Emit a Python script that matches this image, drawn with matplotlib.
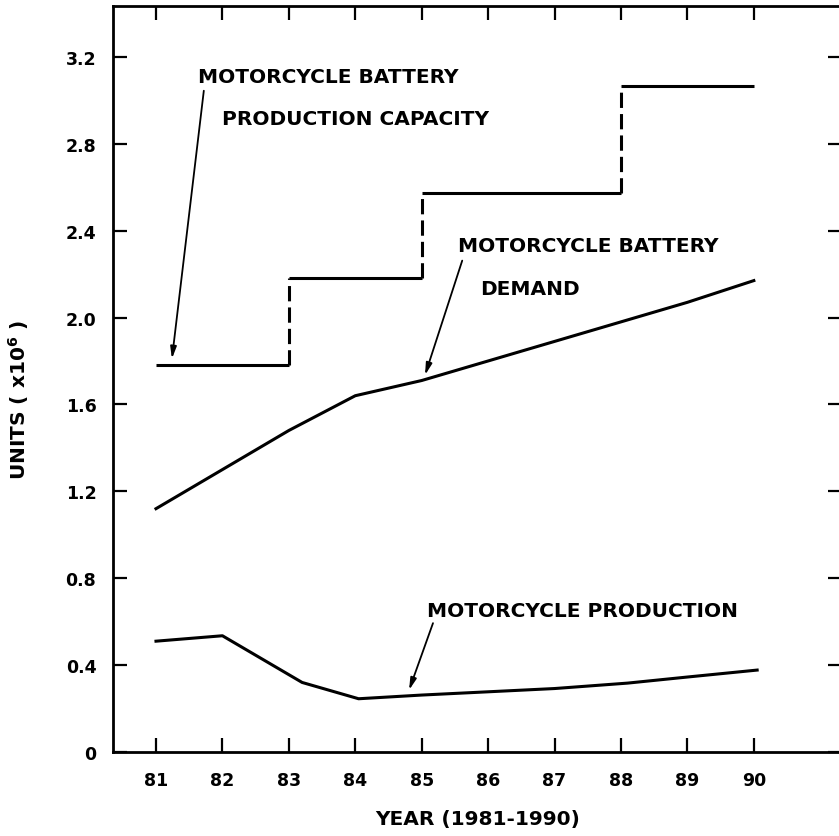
import numpy as np
import matplotlib
matplotlib.use('Agg')
import matplotlib.pyplot as plt

# data
years = [81, 82, 83, 84, 85, 86, 87, 88, 89, 90]
demand = [1.12, 1.30, 1.48, 1.64, 1.71, 1.80, 1.89, 1.98, 2.07, 2.17]

prod_years = [81, 82, 83.2, 84.05, 85, 86, 87, 88.1, 89, 90.05]
production = [0.51, 0.535, 0.32, 0.245, 0.262, 0.277, 0.292, 0.317, 0.345, 0.377]

cap_years = [81, 83, 85, 88, 90]
cap_levels = [1.78, 2.18, 2.575, 3.065]

yticks = [0, 0.4, 0.8, 1.2, 1.6, 2.0, 2.4, 2.8, 3.2]
ytick_labels = ['0', '0.4', '0.8', '1.2', '1.6', '2.0', '2.4', '2.8', '3.2']
xtick_labels = [str(y) for y in years]

plt.rcParams['font.family'] = 'DejaVu Sans'
plt.rcParams['font.weight'] = 'bold'

fig = plt.figure(figsize=(8.39, 8.37), dpi=100)
ax = fig.add_axes([0.1347, 0.1004, 0.8683, 0.8912])

lw = 2.2
ax.plot(years, demand, color='black', lw=lw)
ax.plot(prod_years, production, color='black', lw=lw)

# capacity: solid steps, dashed risers
ax.hlines(cap_levels, cap_years[:-1], cap_years[1:], color='black', lw=lw)
ax.vlines(cap_years[1:-1], cap_levels[:-1], cap_levels[1:], color='black',
          lw=lw, linestyles=(0, (5, 2)))

ax.set_xlim(80.353, 91.32)
ax.set_ylim(0, 3.434)

ax.set_xticks(years)
ax.set_xticklabels(xtick_labels)
ax.set_yticks(yticks)
ax.set_yticklabels(ytick_labels)
ax.tick_params(direction='in', length=10, width=1.6, top=True, right=True,
               labelsize=12.5, pad=14)
ax.tick_params(axis='y', pad=12)
for s in ax.spines.values():
    s.set_linewidth(2)

ax.set_xlabel('YEAR (1981-1990)', fontsize=14.5, fontweight='bold', labelpad=14)
ax.set_ylabel('UNITS ( x10$^{\\mathbf{6}}$ )', fontsize=14.5, fontweight='bold')
ax.yaxis.set_label_coords(-0.112, 0.473)

txt = dict(fontsize=14.5, fontweight='bold', va='center', ha='left')
arrow = dict(arrowstyle='-|>,head_length=0.7,head_width=0.18', color='black',
             lw=1.3, shrinkA=0, shrinkB=0)

ax.text(81.63, 3.11, 'MOTORCYCLE BATTERY', **txt)
ax.text(81.99, 2.915, 'PRODUCTION CAPACITY', **txt)
ax.annotate('', xy=(81.24, 1.81), xytext=(81.72, 3.044), arrowprops=arrow)

ax.text(85.55, 2.33, 'MOTORCYCLE BATTERY', **txt)
ax.text(85.88, 2.133, 'DEMAND', **txt)
ax.annotate('', xy=(85.05, 1.735), xytext=(85.61, 2.262), arrowprops=arrow)

ax.text(85.08, 0.653, 'MOTORCYCLE PRODUCTION', **txt)
ax.annotate('', xy=(84.81, 0.285), xytext=(85.17, 0.593), arrowprops=arrow)

fig.savefig('out.png', dpi=100)
